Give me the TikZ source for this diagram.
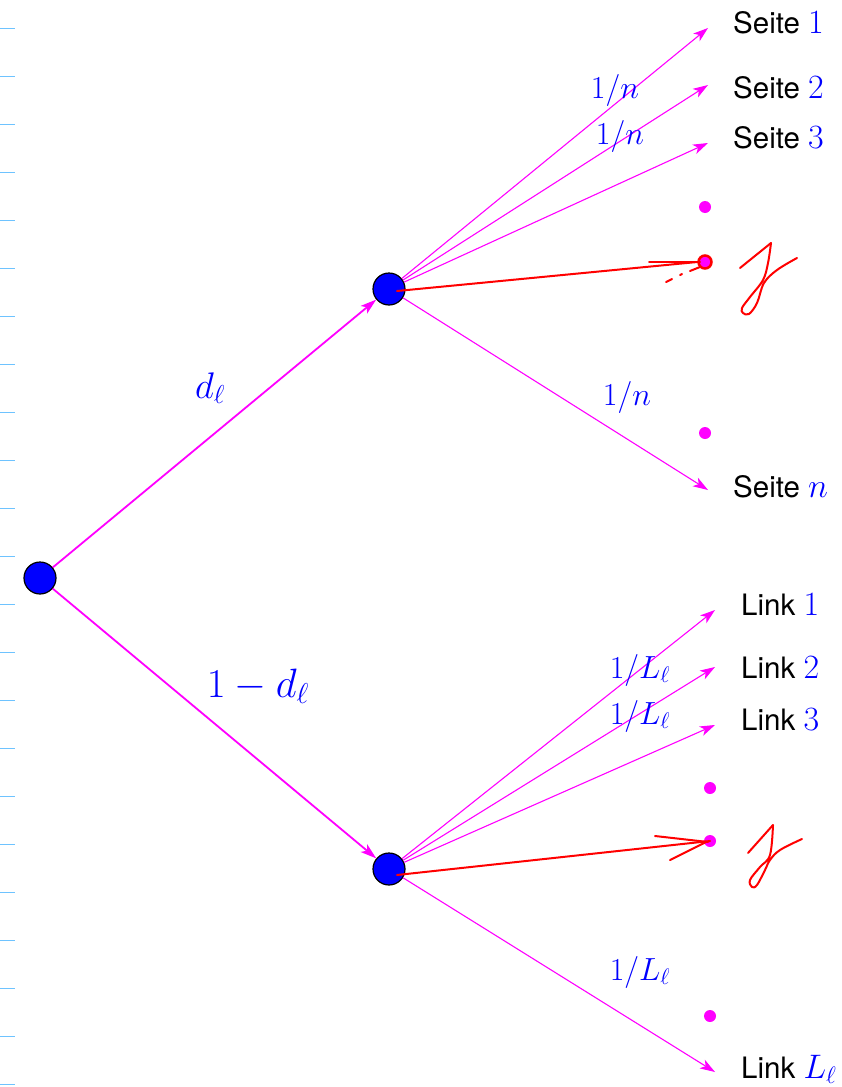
\RequirePackage{fix-cm}
\documentclass[tikz,border=0pt]{standalone}
\usepackage{fontspec}
\setsansfont{TeX Gyre Heros}
\usetikzlibrary{arrows.meta}
\definecolor{tick}{RGB}{110,195,255}
\definecolor{mag}{RGB}{255,0,255}
\newcommand{\bnum}[1]{{\color{blue}\fontsize{34}{36}\selectfont$#1$}}
\begin{document}
\begin{tikzpicture}[x=1pt,y=-1pt,
  knot/.style={circle,fill=blue,draw=black,line width=1.2pt,minimum size=32pt,inner sep=0pt},
  pdot/.style={circle,fill=mag,minimum size=12pt,inner sep=0pt},
  branch/.style={mag,line width=1.8pt,-{Stealth[length=16pt,width=10pt,inset=4pt]}},
  fan/.style={mag,line width=1.1pt,-{Stealth[length=15pt,width=10pt,inset=4pt]}},
  lbl/.style={font=\sffamily\fontsize{29.5}{32}\selectfont,anchor=base west,inner sep=0pt},
  prob/.style={text=blue,font=\fontsize{32}{36}\selectfont,inner sep=0pt},
  bigprob/.style={text=blue,font=\fontsize{37}{40}\selectfont,inner sep=0pt},
  hand/.style={red,line width=2pt,line cap=round,line join=round},
  tickline/.style={tick,line width=1pt}]
\useasboundingbox (0,0) rectangle (842,1087);
% left ruler ticks
\foreach \k in {0,...,22}{\draw[tickline] (0,{28+48*\k}) -- (15,{28+48*\k});}
% nodes
\node[knot] (r) at (40,578) {};
\node[knot] (u) at (389,289) {};
\node[knot] (l) at (389,869) {};
% upper targets
\coordinate (s1) at (708,28);
\coordinate (s2) at (708,85);
\coordinate (s3) at (708,143);
\coordinate (sn) at (708,490);
\node[pdot] (ud1) at (705,207) {};
\node[pdot] (ud2) at (705,433) {};
\node[circle,fill=mag,draw=red,line width=2.5pt,minimum size=13pt,inner sep=0pt] (uj) at (705,262) {};
% lower targets
\coordinate (k1) at (715,610);
\coordinate (k2) at (715,667);
\coordinate (k3) at (715,725);
\coordinate (kn) at (715,1072);
\node[pdot] (ld1) at (710,788) {};
\node[pdot] (ld2) at (710,1016) {};
\node[pdot] (lj) at (710,841) {};
% main branches
\draw[branch] (r) -- (u);
\draw[branch] (r) -- (l);
\node[bigprob] at (210,388) {$d_\ell$};
\node[bigprob,font=\fontsize{41}{44}\selectfont] at (258,686) {$1-d_\ell$};
% upper fan
\draw[fan] (u) -- (s1);
\draw[fan] (u) -- (s2);
\draw[fan] (u) -- (s3);
\draw[fan] (u) -- (sn);
\node[prob] at (615,90) {$1/n$};
\node[prob] at (620,136) {$1/n$};
\node[prob] at (627,397) {$1/n$};
\node[lbl] (t1) at (733,33) {Seite \bnum{1}};
\node[lbl] (t2) at (733,98) {Seite \bnum{2}};
\node[lbl] (t3) at (733,148) {Seite \bnum{3}};
\node[lbl] (tn) at (733,497) {Seite \bnum{n}};
% lower fan
\draw[fan] (l) -- (k1);
\draw[fan] (l) -- (k2);
\draw[fan] (l) -- (k3);
\draw[fan] (l) -- (kn);
\node[prob] at (640,670) {$1/L_\ell$};
\node[prob] at (640,716) {$1/L_\ell$};
\node[prob] at (640,972) {$1/L_\ell$};
\node[lbl] (m1) at (741,615) {Link \bnum{1}};
\node[lbl] (m2) at (741,678) {Link \bnum{2}};
\node[lbl] (m3) at (741,730) {Link \bnum{3}};
\node[lbl] (mn) at (741,1078) {Link \bnum{L_\ell}};
% red handwritten annotations (upper)
\draw[hand] (u.center) ++(8,2) -- (uj.west);
\draw[hand] (649,262) -- (700,262);
\draw[hand] (666,282) -- (672,279);
\draw[hand] (680,275) -- (682,274);
\draw[hand] (690,271) -- (700,267);
\draw[hand] (740,268) -- (771,243);
\draw[hand] plot[smooth,tension=0.6] coordinates {(771,243) (768,263) (763,280) (750,297) (742,308) (743,313) (749,314) (757,303) (764,283) (777,270) (797,258)};
% red handwritten annotations (lower)
\draw[hand] (l.center) ++(8,6) -- (lj.center);
\draw[hand] (655,836) -- (708,842);
\draw[hand] (670,860) -- (706,842);
\draw[hand] (748,853) -- (773,825);
\draw[hand] plot[smooth,tension=0.6] coordinates {(773,825) (770,855) (760,867) (750,880) (752,887) (757,885) (765,870) (770,860) (780,850) (802,839)};
\end{tikzpicture}
\end{document}
